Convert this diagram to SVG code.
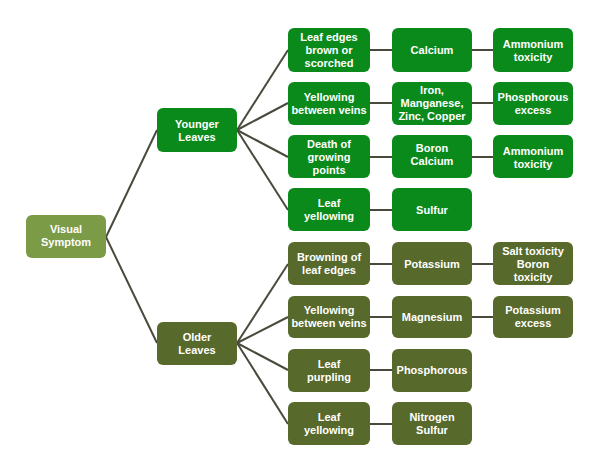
<svg xmlns="http://www.w3.org/2000/svg" width="607" height="474" viewBox="0 0 607 474">
<style>
.n rect{rx:6;ry:6}
.g rect{fill:#0b8a1c}
.o rect{fill:#58692c}
.v rect{fill:#7b9b47}
text{font-family:"Liberation Sans",Arial,sans-serif;font-weight:bold;font-size:11px;fill:#ffffff;text-anchor:middle}
.c line{stroke:#4a4a3c;stroke-width:2}
</style>
<rect width="607" height="474" fill="#ffffff"/>
<g class="c" id="connectors">
<line x1="106" y1="237" x2="157" y2="130"/>
<line x1="106" y1="237" x2="157" y2="343"/>
<line x1="237" y1="130" x2="288" y2="50"/>
<line x1="237" y1="130" x2="288" y2="103"/>
<line x1="237" y1="130" x2="288" y2="157"/>
<line x1="237" y1="130" x2="288" y2="210"/>
<line x1="237" y1="343" x2="288" y2="264"/>
<line x1="237" y1="343" x2="288" y2="317"/>
<line x1="237" y1="343" x2="288" y2="370"/>
<line x1="237" y1="343" x2="288" y2="424"/>
<line x1="370" y1="50" x2="392" y2="50"/><line x1="472" y1="50" x2="493" y2="50"/>
<line x1="370" y1="103" x2="392" y2="103"/><line x1="472" y1="103" x2="493" y2="103"/>
<line x1="370" y1="157" x2="392" y2="157"/><line x1="472" y1="157" x2="493" y2="157"/>
<line x1="370" y1="210" x2="392" y2="210"/>
<line x1="370" y1="264" x2="392" y2="264"/><line x1="472" y1="264" x2="493" y2="264"/>
<line x1="370" y1="317" x2="392" y2="317"/><line x1="472" y1="317" x2="493" y2="317"/>
<line x1="370" y1="370" x2="392" y2="370"/>
<line x1="370" y1="424" x2="392" y2="424"/>
</g>
<g id="visual" class="n v"><rect x="26" y="215" width="80" height="43"/><text x="66" y="233">Visual</text><text x="66" y="246">Symptom</text></g>
<g id="younger" class="n g"><rect x="157" y="108" width="80" height="44"/><text x="197" y="128">Younger</text><text x="197" y="141">Leaves</text></g>
<g id="older" class="n o"><rect x="157" y="322" width="80" height="43"/><text x="197" y="341">Older</text><text x="197" y="354">Leaves</text></g>

<g id="y1a" class="n g"><rect x="288" y="28" width="82" height="44"/><text x="329" y="41">Leaf edges</text><text x="329" y="54">brown or</text><text x="329" y="67">scorched</text></g>
<g id="y1b" class="n g"><rect x="392" y="28" width="80" height="44"/><text x="432" y="54">Calcium</text></g>
<g id="y1c" class="n g"><rect x="493" y="28" width="80" height="44"/><text x="533" y="48">Ammonium</text><text x="533" y="61">toxicity</text></g>

<g id="y2a" class="n g"><rect x="288" y="82" width="82" height="43"/><text x="329" y="101">Yellowing</text><text x="329" y="114">between veins</text></g>
<g id="y2b" class="n g"><rect x="392" y="82" width="80" height="43"/><text x="432" y="94">Iron,</text><text x="432" y="107">Manganese,</text><text x="432" y="120">Zinc, Copper</text></g>
<g id="y2c" class="n g"><rect x="493" y="82" width="80" height="43"/><text x="533" y="101">Phosphorous</text><text x="533" y="114">excess</text></g>

<g id="y3a" class="n g"><rect x="288" y="135" width="82" height="43"/><text x="329" y="148">Death of</text><text x="329" y="161">growing</text><text x="329" y="174">points</text></g>
<g id="y3b" class="n g"><rect x="392" y="135" width="80" height="43"/><text x="432" y="152">Boron</text><text x="432" y="165">Calcium</text></g>
<g id="y3c" class="n g"><rect x="493" y="135" width="80" height="43"/><text x="533" y="155">Ammonium</text><text x="533" y="168">toxicity</text></g>

<g id="y4a" class="n g"><rect x="288" y="188" width="82" height="43"/><text x="329" y="207">Leaf</text><text x="329" y="220">yellowing</text></g>
<g id="y4b" class="n g"><rect x="392" y="188" width="80" height="43"/><text x="432" y="214">Sulfur</text></g>

<g id="o1a" class="n o"><rect x="288" y="242" width="82" height="43"/><text x="329" y="261">Browning of</text><text x="329" y="274">leaf edges</text></g>
<g id="o1b" class="n o"><rect x="392" y="242" width="80" height="43"/><text x="432" y="268">Potassium</text></g>
<g id="o1c" class="n o"><rect x="493" y="242" width="80" height="43"/><text x="533" y="255">Salt toxicity</text><text x="533" y="268">Boron</text><text x="533" y="281">toxicity</text></g>

<g id="o2a" class="n o"><rect x="288" y="296" width="82" height="42"/><text x="329" y="314">Yellowing</text><text x="329" y="327">between veins</text></g>
<g id="o2b" class="n o"><rect x="392" y="296" width="80" height="42"/><text x="432" y="321">Magnesium</text></g>
<g id="o2c" class="n o"><rect x="493" y="296" width="80" height="42"/><text x="533" y="314">Potassium</text><text x="533" y="327">excess</text></g>

<g id="o3a" class="n o"><rect x="288" y="349" width="82" height="43"/><text x="329" y="368">Leaf</text><text x="329" y="381">purpling</text></g>
<g id="o3b" class="n o"><rect x="392" y="349" width="80" height="43"/><text x="432" y="374">Phosphorous</text></g>

<g id="o4a" class="n o"><rect x="288" y="402" width="82" height="43"/><text x="329" y="421">Leaf</text><text x="329" y="434">yellowing</text></g>
<g id="o4b" class="n o"><rect x="392" y="402" width="80" height="43"/><text x="432" y="421">Nitrogen</text><text x="432" y="434">Sulfur</text></g>
</svg>
